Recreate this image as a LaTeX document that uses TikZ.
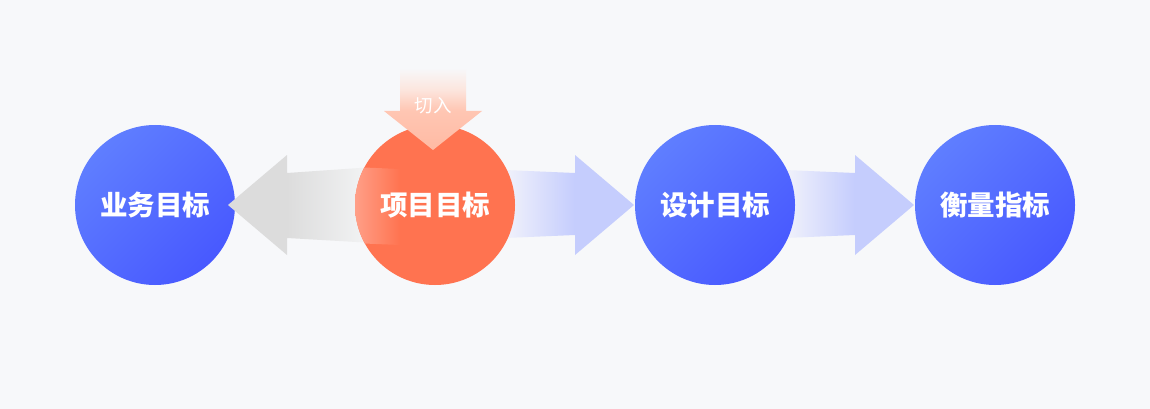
\documentclass[tikz,border=0pt]{standalone}
\usepackage{fontspec}
\newfontfamily\cjk{Noto Sans CJK SC}
\usetikzlibrary{shadings}
\definecolor{bgc}{HTML}{F7F8FA}
\definecolor{orangec}{HTML}{FF7350}
\definecolor{bluelight}{HTML}{5F7EFF}
\definecolor{bluedark}{HTML}{4859FF}
\definecolor{grayhead}{HTML}{DCDCDC}
\definecolor{graytail}{HTML}{F4F5F6}
\definecolor{bluehead}{HTML}{C5CDFD}
\definecolor{bluetail}{HTML}{F1F2FB}
\definecolor{peachhead}{HTML}{FFBAA3}
\definecolor{peachmid}{HTML}{FFC6B3}
\definecolor{peachtop}{HTML}{FCE6DE}
\definecolor{orangelight}{HTML}{FFA28B}
\pgfdeclarehorizontalshading{rightarrowshade}{100bp}{color(0bp)=(bluetail); color(25bp)=(bluetail); color(52bp)=(bluehead); color(100bp)=(bluehead)}
\pgfdeclarehorizontalshading{leftarrowshade}{100bp}{color(0bp)=(grayhead); color(45bp)=(grayhead); color(75bp)=(graytail); color(100bp)=(graytail)}
\pgfdeclareverticalshading{downarrowshade}{100bp}{color(0bp)=(peachhead); color(25bp)=(peachhead); color(49bp)=(peachmid); color(62bp)=(peachtop); color(75bp)=(bgc); color(100bp)=(bgc)}
\tikzset{
  goal/.style={circle, minimum size=160pt, inner sep=0pt, text=white, font=\cjk\bfseries\fontsize{27.5}{27.5}\selectfont},
  bluegoal/.style={goal, shading=axis, top color=bluelight, bottom color=bluedark, shading angle=45},
  orangegoal/.style={goal, fill=orangec},
  cutlabel/.style={text=white, font=\cjk\fontsize{18.5}{18.5}\selectfont, inner sep=0pt}
}
\begin{document}
\begin{tikzpicture}[x=1pt,y=-1pt]
\fill[bgc] (0,0) rectangle (1150,409);
\useasboundingbox (0,0) rectangle (1150,409);
% right arrows behind circles
\shade[shading=rightarrowshade] (505,170) -- (575,173) -- (575,155) -- (634,205) -- (575,255) -- (575,235) -- (505,238) -- cycle;
\shade[shading=rightarrowshade] (785,170) -- (855,173) -- (855,155) -- (914,205) -- (855,255) -- (855,235) -- (785,238) -- cycle;
% circles
\node[bluegoal] (biz) at (155,205) {};
\shade[shading=leftarrowshade] (228,205) -- (287,155) -- (287,173) -- (374,167) -- (374,243) -- (287,238) -- (287,255) -- cycle;
\node[orangegoal] (proj) at (435,205) {};
\node[bluegoal] (design) at (715,205) {};
\node[bluegoal] (metric) at (995,205) {};
% light overlay of the gray arrow's tail on the orange circle
\begin{scope}
\clip (proj.center) circle (80pt);
\shade[left color=orangelight, right color=orangec] (352,167) -- (400,169) -- (400,245) -- (352,243) -- cycle;
\end{scope}
% top arrow
\shade[shading=downarrowshade] (400,68) -- (466,68) -- (466,111) -- (482,111) -- (433,150) -- (384,111) -- (400,111) -- cycle;
\node[cutlabel] (cut) at (433,106) {切入};
% labels
\node[goal] at (biz.center) {业务目标};
\node[goal] at (proj.center) {项目目标};
\node[goal] at (design.center) {设计目标};
\node[goal] at (metric.center) {衡量指标};
\end{tikzpicture}
\end{document}
